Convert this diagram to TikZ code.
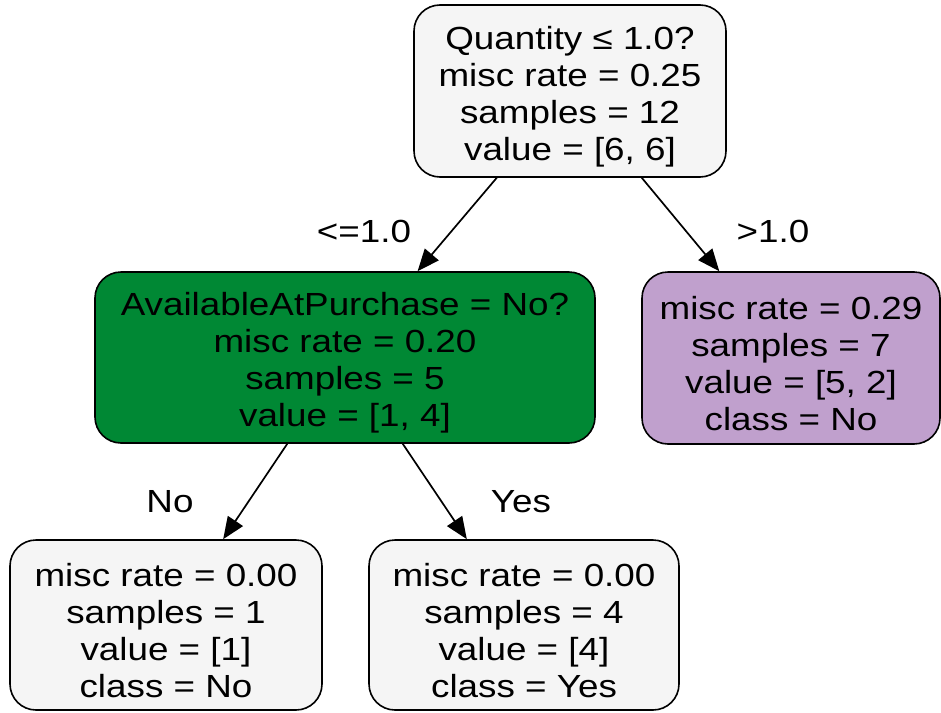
\documentclass[tikz,border=0pt]{standalone}
\usepackage{fontspec}
\setmainfont{Liberation Sans}[FakeStretch=1.15]
\usetikzlibrary{arrows.meta}
\definecolor{leafgray}{RGB}{245,245,245}
\definecolor{nodegreen}{RGB}{0,136,52}
\definecolor{nodepurple}{RGB}{192,160,205}
\newcommand{\firstline}{\rule{0pt}{34pt}}
\begin{document}
\begin{tikzpicture}[x=1pt,y=-1pt,
  box/.style={draw=black, line width=1.6pt, rounded corners=26pt, align=center, inner sep=0pt,
              font=\fontsize{32}{37}\selectfont},
  edge/.style={line width=1.7pt, -{Triangle[length=22pt,width=18pt]}},
  lab/.style={font=\fontsize{32}{37}\selectfont, anchor=base, inner sep=0pt}]
\useasboundingbox (0,0) rectangle (941,712);
\node[box, fill=leafgray, minimum width=312pt, minimum height=172pt] (root) at (570,91)
  {\firstline Quantity ≤ 1.0?\\misc rate = 0.25\\samples = 12\\value = [6, 6]};
\node[box, fill=nodegreen, minimum width=500pt, minimum height=171pt] (green) at (345,357.5)
  {\firstline AvailableAtPurchase = No?\\misc rate = 0.20\\samples = 5\\value = [1, 4]};
\node[box, fill=nodepurple, minimum width=298pt, minimum height=172pt] (purple) at (791,358)
  {\firstline misc rate = 0.29\\samples = 7\\value = [5, 2]\\class = No};
\node[box, fill=leafgray, minimum width=312pt, minimum height=170pt] (leafno) at (166,625)
  {\firstline misc rate = 0.00\\samples = 1\\value = [1]\\class = No};
\node[box, fill=leafgray, minimum width=310pt, minimum height=170pt] (leafyes) at (524,625)
  {\firstline misc rate = 0.00\\samples = 4\\value = [4]\\class = Yes};
\draw[edge] (root) -- (green);
\draw[edge] (root) -- (purple);
\draw[edge] (green) -- (leafno);
\draw[edge] (green) -- (leafyes);
\node[lab] (l1) at (364,242) {<=1.0};
\node[lab] (l2) at (773,242) {>1.0};
\node[lab] (l3) at (170,512) {No};
\node[lab] (l4) at (521,512) {Yes};
\end{tikzpicture}
\end{document}
